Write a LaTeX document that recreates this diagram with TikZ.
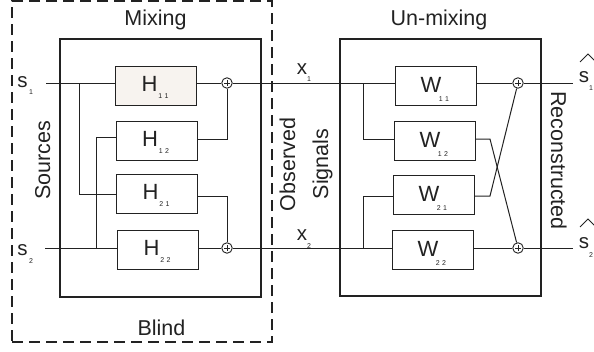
\documentclass[tikz,border=0pt]{standalone}
\usepackage{fontspec}
\setmainfont{Liberation Sans}
\usetikzlibrary{calc}
\definecolor{hfill}{HTML}{F7F3EF}
\definecolor{ink}{HTML}{222222}
\tikzset{
  blk/.style={draw=ink, line width=1pt, minimum width=81pt, minimum height=39pt, inner sep=0pt, outer sep=0pt},
  frame/.style={draw=ink, line width=1.5pt, inner sep=0pt, outer sep=0pt},
  dashframe/.style={draw=ink, line width=1.3pt, dash pattern=on 11pt off 6pt, inner sep=0pt, outer sep=0pt},
  sumc/.style={circle, draw=ink, line width=0.9pt, minimum size=10.5pt, inner sep=0pt, fill=white,
    path picture={\draw[line width=0.8pt] ($(path picture bounding box.center)+(-2.6,0)$) -- ++(5.2,0);
                  \draw[line width=0.8pt] ($(path picture bounding box.center)+(0,-2.6)$) -- ++(0,5.2);}},
  wire/.style={draw=ink, line width=1pt},
  big/.style={font=\fontsize{21.5}{24}\selectfont, inner sep=0pt, text=ink},
  lbl/.style={font=\fontsize{22}{24}\selectfont, inner sep=0pt, text=ink},
  sig/.style={font=\fontsize{20.5}{22}\selectfont, inner sep=0pt, text=ink},
  sub/.style={font=\fontsize{7}{8}\selectfont, inner sep=0pt, text=ink},
  hatline/.style={draw=ink, line width=1pt}
}
\begin{document}
\begin{tikzpicture}[x=1pt, y=-1pt]
\useasboundingbox (0,0) rectangle (594,351);
% frames
\node[dashframe, minimum width=260pt, minimum height=341pt] (blindbox) at (142,171.5) {};
\node[frame, minimum width=201pt, minimum height=258pt] (mixbox) at (160.5,168) {};
\node[frame, minimum width=201pt, minimum height=257pt] (unmixbox) at (440.5,167.5) {};
% mixing blocks
\node[blk, fill=hfill] (H11) at (156,85.5) {};
\node[blk] (H12) at (156.5,140.5) {};
\node[blk] (H21) at (157,194) {};
\node[blk] (H22) at (158,249.5) {};
\foreach \b/\s in {H11/1\,\,1, H12/1\,\,2, H21/2\,\,1, H22/2\,\,2}{
  \node[lbl, anchor=base] (\b l) at ($(\b.north west)+(34,25)$) {H};
  \node[sub] (\b s) at ($(\b.north west)+(48,30)$) {\s};
}
% unmixing blocks
\node[blk] (W11) at (435.5,85.5) {};
\node[blk] (W12) at (434.5,140.5) {};
\node[blk] (W21) at (433.5,194.5) {};
\node[blk] (W22) at (432.5,249.5) {};
\foreach \b/\s in {W11/1\,\,1, W12/1\,\,2, W21/2\,\,1, W22/2\,\,2}{
  \node[lbl, anchor=base] (\b l) at ($(\b.north west)+(36,26)$) {W};
  \node[sub] (\b s) at ($(\b.north west)+(49,33)$) {\s};
}
% sums
\node[sumc] (S1) at (227,83) {};
\node[sumc] (S2) at (227,248) {};
\node[sumc] (T1) at (518,83) {};
\node[sumc] (T2) at (518,248) {};
% coordinates
\coordinate (s1in) at (46,83);
\coordinate (s2in) at (45,248);
\coordinate (j1) at (79,83);
\coordinate (j1b) at (79,194);
\coordinate (j2) at (96,248);
\coordinate (j2b) at (96,137);
\coordinate (c12) at (227,139);
\coordinate (c21) at (227,196);
\coordinate (k1) at (363,83);
\coordinate (k1b) at (363,139);
\coordinate (k2) at (363,248);
\coordinate (k2b) at (363,196);
\coordinate (d12) at (490,139);
\coordinate (d21) at (490,196);
\coordinate (out1) at (573,83);
\coordinate (out2) at (573,248);
% wires, mixing
\draw[wire] (s1in) -- (H11.west |- s1in);
\draw[wire] (s2in) -- (H22.west |- s2in);
\draw[wire] (j1) -- (j1b) -- (H21.west |- j1b);
\draw[wire] (j2) -- (j2b) -- (H12.west |- j2b);
\draw[wire] (H11.east |- S1) -- (S1);
\draw[wire] (H12.east |- c12) -- (c12) -- (S1);
\draw[wire] (H21.east |- c21) -- (c21) -- (S2);
\draw[wire] (H22.east |- S2) -- (S2);
% observed
\draw[wire] (S1) -- (W11.west |- S1);
\draw[wire] (S2) -- (W22.west |- S2);
% wires, unmixing
\draw[wire] (k1) -- (k1b) -- (W12.west |- k1b);
\draw[wire] (k2) -- (k2b) -- (W21.west |- k2b);
\draw[wire] (W11.east |- T1) -- (T1);
\draw[wire] (W12.east |- d12) -- (d12) -- (T2);
\draw[wire] (W21.east |- d21) -- (d21) -- (T1);
\draw[wire] (W22.east |- T2) -- (T2);
\draw[wire] (T1) -- (out1);
\draw[wire] (T2) -- (out2);
% titles
\node[big, anchor=base] (mixing) at (155.5,25) {Mixing};
\node[big, anchor=base] (unmixing) at (439,25) {Un-mixing};
\node[big, anchor=base] (blind) at (161.5,335) {Blind};
\node[big, anchor=base, rotate=90] (sources) at (50,160.5) {Sources};
\node[big, anchor=base, rotate=90] (observed) at (295,164.5) {Observed};
\node[big, anchor=base, rotate=90] (signals) at (328,164) {Signals};
\node[big, anchor=base, rotate=-90] (recon) at (551,160.5) {Reconstructed};
% signal labels
\node[sig, anchor=base] (s1l) at (22.5,87) {s};
\node[sub] (s1s) at (31,92) {1};
\node[sig, anchor=base] (s2l) at (22.5,255) {s};
\node[sub] (s2s) at (31,261) {2};
\node[sig, anchor=base] (x1l) at (302,74) {x};
\node[sub] (x1s) at (309,79) {1};
\node[sig, anchor=base] (x2l) at (302,240) {x};
\node[sub] (x2s) at (309,246) {2};
\node[sig, anchor=base] (r1l) at (584,82) {s};
\node[sub] (r1s) at (591,88) {1};
\node[sig, anchor=base] (r2l) at (584,248) {s};
\node[sub] (r2s) at (591,255) {2};
\draw[hatline] (580,62) -- (588,54) -- (595,61);
\draw[hatline] (580,227) -- (588,219) -- (595,226);
\end{tikzpicture}
\end{document}
